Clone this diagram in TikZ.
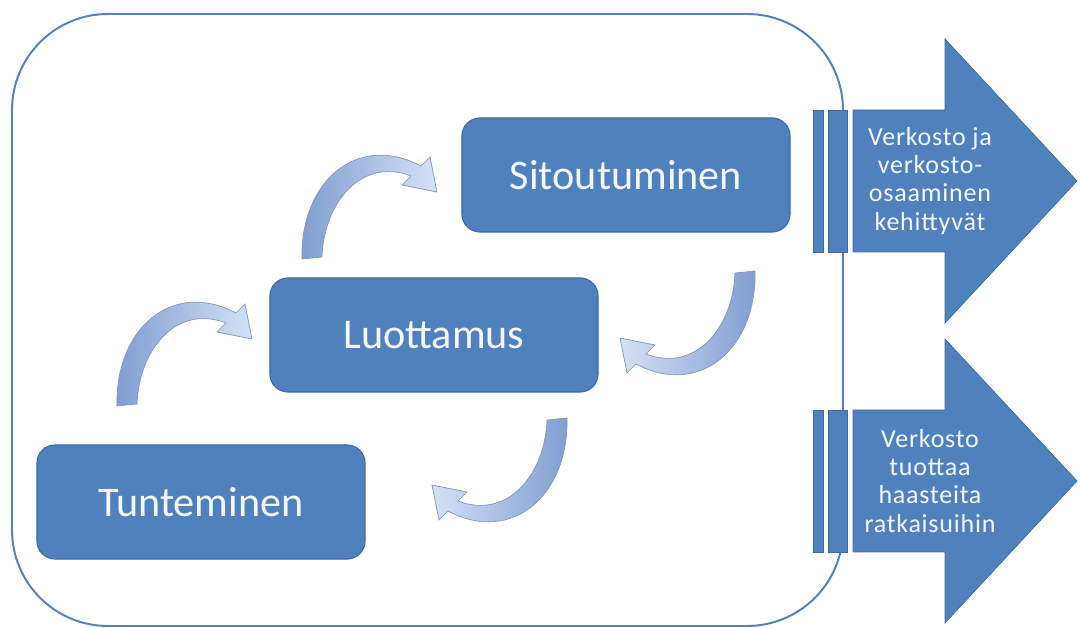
\documentclass[tikz,border=0pt]{standalone}
\usepackage{fontspec}
\setmainfont{Carlito}
\newfontfamily\goalfont[LetterSpace=3]{Carlito}

\definecolor{boxblue}{HTML}{4F81BD}
\definecolor{boxline}{HTML}{3E6A9F}
\definecolor{framecol}{HTML}{5A80B8}
\definecolor{arrowdark}{HTML}{7F9DD0}
\definecolor{arrowlight}{HTML}{D3E2F6}
\definecolor{arrowline}{HTML}{8497BD}
\definecolor{textwhite}{HTML}{F4F8FD}

\tikzset{
  stage/.style={draw=boxline, line width=0.8pt, fill=boxblue,
    rounded corners=0.45cm, minimum width=8.2cm, minimum height=2.85cm,
    text=textwhite, font=\fontsize{30}{36}\selectfont},
  frame/.style={draw=framecol, line width=1.4pt, rounded corners=2.4cm},
  bigarrow/.style={fill=boxblue, draw=boxline, line width=0.5pt},
  goaltext/.style={text=textwhite, align=center,
    font=\goalfont\fontsize{18.5}{20}\selectfont},
  bendarrow/.style={draw=arrowline, line width=0.5pt}
}

\begin{document}
\begin{tikzpicture}[x=0.025cm, y=-0.025cm]

\useasboundingbox (0,0) rectangle (1080,628);

% Kehys
\draw[frame] (12,14) rectangle (843,626);

% Vaiheet
\node[stage] (sitoutuminen) at (626,175) {Sitoutuminen};
\node[stage] (luottamus) at (434,335) {Luottamus};
\node[stage] (tunteminen) at (201,502) {Tunteminen};

% Kaarinuolet
\foreach \x/\y/\r/\lc/\rc in {127/404/0/arrowdark/arrowlight,
  312/257/0/arrowdark/arrowlight,
  745/273/180/arrowlight/arrowdark,
  557/420/180/arrowlight/arrowdark}
{
\begin{scope}[shift={(\x,\y)}, rotate=\r]
\draw[bendarrow, left color=\lc, right color=\rc]
  (-10,2) .. controls (-12,-75) and (45,-125) .. (109,-91)
  -- (118,-100) -- (125,-65) -- (90,-72) -- (99,-81)
  .. controls (50,-100) and (12,-55) .. (10,0) -- cycle;
\end{scope}
}

% Tulokset
\foreach \yc/\name/\txt in {181/tulos1/{Verkosto ja\\verkosto-\\osaaminen\\kehittyvät},
  481/tulos2/{Verkosto\\tuottaa\\haasteita\\ratkaisuihin}}
{
\filldraw[bigarrow] (853,\yc-71) -- (945,\yc-71) -- (945,\yc-142)
  -- (1077,\yc) -- (945,\yc+142) -- (945,\yc+71) -- (853,\yc+71) -- cycle;
\filldraw[bigarrow] (813,\yc-71) rectangle (823,\yc+71);
\filldraw[bigarrow] (828,\yc-71) rectangle (847,\yc+71);
\node[goaltext] (\name) at (930,\yc) {\txt};
}

\end{tikzpicture}
\end{document}
